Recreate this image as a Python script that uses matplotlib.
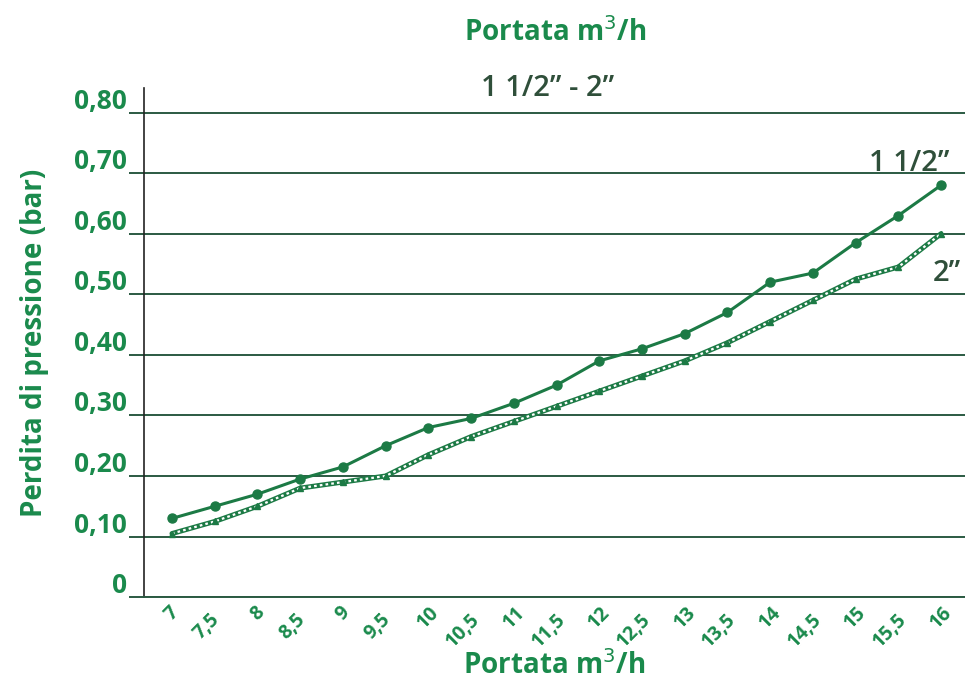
import matplotlib.pyplot as plt
from matplotlib.transforms import ScaledTranslation

portata = [7, 7.5, 8, 8.5, 9, 9.5, 10, 10.5, 11, 11.5, 12, 12.5, 13, 13.5, 14, 14.5, 15, 15.5, 16]
perdita_1_12 = [0.13, 0.15, 0.17, 0.195, 0.215, 0.25, 0.28, 0.295, 0.32, 0.35, 0.39, 0.41, 0.435, 0.47, 0.52, 0.535, 0.585, 0.63, 0.68]
perdita_2 = [0.105, 0.125, 0.15, 0.18, 0.19, 0.20, 0.235, 0.265, 0.29, 0.315, 0.34, 0.365, 0.39, 0.42, 0.455, 0.49, 0.525, 0.545, 0.60]
yticks = [0, 0.1, 0.2, 0.3, 0.4, 0.5, 0.6, 0.7, 0.8]
ylabels = ["0", "0,10", "0,20", "0,30", "0,40", "0,50", "0,60", "0,70", "0,80"]
xlabels = ["7", "7,5", "8", "8,5", "9", "9,5", "10", "10,5", "11", "11,5",
           "12", "12,5", "13", "13,5", "14", "14,5", "15", "15,5", "16"]

green = "#1a8a4c"
line_green = "#1c7a45"
grid_col = "#2b5a42"
dark = "#2f4f3a"

plt.rcParams['font.family'] = ['Open Sans', 'DejaVu Sans']

fig = plt.figure(figsize=(9.65, 6.96), dpi=100)
ax = fig.add_axes([0.149, 0.142, 0.851, 0.732])

# 1 1/2" : solid line with dots
ax.plot(portata, perdita_1_12, color=line_green, linewidth=2.2, marker="o", markersize=6.5, zorder=4)

# 2" : chain-like line
ax.plot(portata, perdita_2, color=line_green, linewidth=3.6, zorder=3, solid_capstyle="round")
ax.plot(portata, perdita_2, color="white", linewidth=1.6, linestyle=(0, (1.2, 1.4)), zorder=3.5)
ax.plot(portata, perdita_2, color=line_green, linestyle="none", marker="^", markersize=4, zorder=3.6)

ax.set_xlim(6.67, 16.28)
ax.set_ylim(0, 0.841)
ax.set_yticks(yticks)
ax.set_yticklabels(ylabels, color=green, fontsize=19, fontweight="bold", va="bottom")
ax.yaxis.grid(True, color=grid_col, linewidth=1.4)
ax.set_axisbelow(True)
ax.tick_params(axis="y", length=11, width=1.4, color=grid_col, pad=1)
for lab in ax.get_yticklabels():
    lab.set_transform(lab.get_transform() + ScaledTranslation(0, -0.02, fig.dpi_scale_trans))

ax.set_xticks(portata)
ax.set_xticklabels(xlabels, rotation=45, color=green, fontsize=14, fontweight="bold", ha="center", va="top")
ax.tick_params(axis="x", length=0, pad=4)
for i, lab in enumerate(ax.get_xticklabels()):
    if i % 2 == 1:
        lab.set_transform(lab.get_transform() + ScaledTranslation(-0.08, -0.07, fig.dpi_scale_trans))

for s in ["top", "right"]:
    ax.spines[s].set_visible(False)
ax.spines["left"].set_color("#222222")
ax.spines["left"].set_linewidth(1.2)
ax.spines["bottom"].set_color(grid_col)
ax.spines["bottom"].set_linewidth(1.4)

ax.set_ylabel("Perdita di pressione (bar)", color=green, fontsize=20, fontweight="bold", labelpad=18)
ax.set_xlabel("Portata m$^3$/h", color=green, fontsize=20, fontweight="bold", labelpad=0)

fig.text(0.575, 0.953, "Portata m$^3$/h", color=green, fontsize=20, fontweight="bold", ha="center", va="center")
ax.text(11.4, 0.815, "1 1/2\u201d - 2\u201d", color=dark, fontsize=21, fontweight="semibold", ha="center", va="bottom")
ax.text(16.1, 0.692, "1 1/2\u201d", color=dark, fontsize=21, fontweight="semibold", ha="right", va="bottom")
ax.text(16.23, 0.535, "2\u201d", color=dark, fontsize=21, fontweight="semibold", ha="right", va="center")

plt.savefig("out.png", dpi=100)
